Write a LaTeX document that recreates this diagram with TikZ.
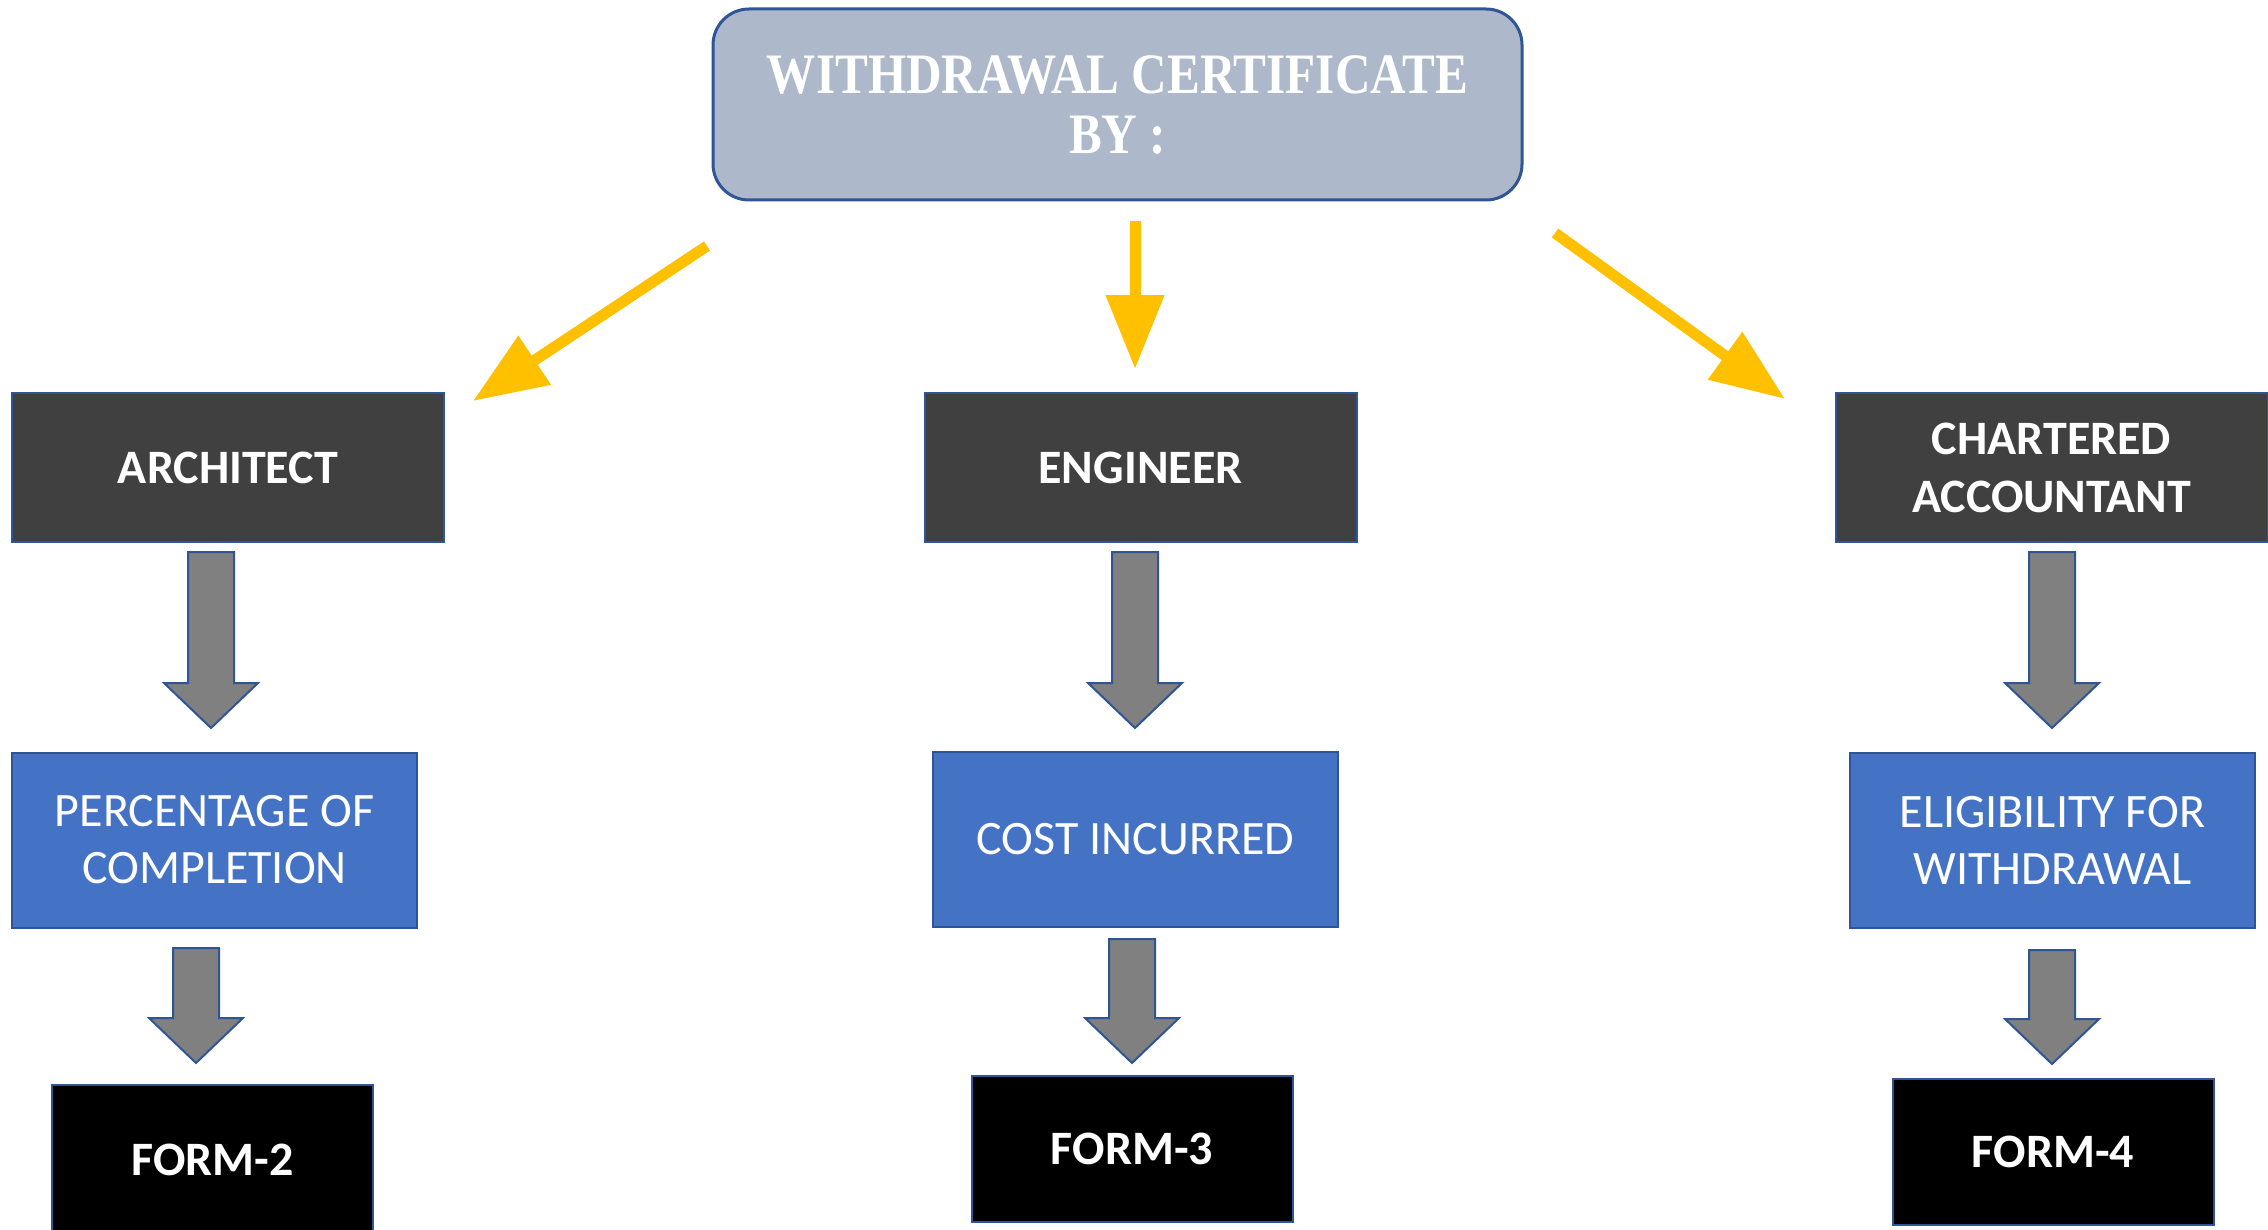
\documentclass[tikz,border=0pt]{standalone}
\usepackage{fontspec}
\setmainfont{Carlito}
\newfontfamily\titlefont{Liberation Serif}[FakeStretch=0.86]
\usetikzlibrary{arrows.meta,calc}

\definecolor{edgeblue}{HTML}{2F5597}
\definecolor{topfill}{HTML}{ADB9CA}
\definecolor{rolefill}{HTML}{404040}
\definecolor{stepfill}{HTML}{4472C4}
\definecolor{arrowgray}{HTML}{808080}
\definecolor{gold}{HTML}{FFC000}

\tikzset{
  titlebox/.style={draw=edgeblue, line width=1.5pt, fill=topfill, rounded corners=18pt,
    minimum width=404.5pt, minimum height=95.5pt, inner sep=0pt, text=white, align=center,
    font=\titlefont\bfseries\fontsize{28.6}{30}\selectfont},
  rolebox/.style={draw=edgeblue, line width=1pt, fill=rolefill, minimum width=216pt,
    minimum height=74.5pt, inner sep=0pt, text=white, align=center,
    font=\bfseries\fontsize{24}{29}\selectfont},
  stepbox/.style={draw=edgeblue, line width=1pt, fill=stepfill, minimum width=202.5pt,
    minimum height=87.5pt, inner sep=0pt, text=white, align=center,
    font=\fontsize{24}{28.5}\selectfont},
  formbox/.style={draw=edgeblue, line width=1pt, fill=black, minimum width=160.5pt,
    minimum height=73pt, inner sep=0pt, text=white, font=\bfseries\fontsize{24}{29}\selectfont},
  goldarrow/.style={draw=gold, line width=5.5pt, -{Triangle[length=37pt,width=28pt]}},
  grayarrow/.style={draw=edgeblue, line width=1pt, fill=arrowgray, line join=miter},
}

% block arrow pointing down, from tail (#1) to tip (#2)
\newcommand{\blockarr}[2]{%
  \filldraw[grayarrow] let \p1=(#1), \p2=(#2) in
    (\x1-11.5pt,\y1) -- (\x1+11.5pt,\y1) -- (\x1+11.5pt,\y2+22.5pt)
    -- (\x1+23.5pt,\y2+22.5pt) -- (\x1,\y2) -- (\x1-23.5pt,\y2+22.5pt)
    -- (\x1-11.5pt,\y2+22.5pt) -- cycle;}

\begin{document}
\begin{tikzpicture}[x=0.5pt,y=-0.5pt]
  \useasboundingbox (0,0) rectangle (2268,1230);
  % top box
  \node[titlebox] (top) at (1117.5,104.5) {WITHDRAWAL CERTIFICATE\\BY :};
  % roles
  \node[rolebox] (arch) at (228,467.5) {ARCHITECT};
  \node[rolebox] (engr) at (1140.5,467.5) {ENGINEER};
  \node[rolebox] (ca) at (2051.5,467.5) {CHARTERED\\ACCOUNTANT};
  % what each one certifies
  \node[stepbox] (perc) at (214.5,840) {PERCENTAGE OF\\COMPLETION};
  \node[stepbox] (cost) at (1135.5,839.5) {COST INCURRED};
  \node[stepbox] (elig) at (2052.5,840) {ELIGIBILITY FOR\\WITHDRAWAL};
  % forms
  \node[formbox, minimum height=75pt] (form2) at (212.5,1160) {FORM-2};
  \node[formbox] (form3) at (1132,1149) {FORM-3};
  \node[formbox] (form4) at (2053,1152) {FORM-4};

  % yellow arrows from the top box
  \coordinate (ys1) at (707,246);  \coordinate (ye1) at (473,401);
  \coordinate (ys2) at (1135,221); \coordinate (ye2) at (1135,369);
  \coordinate (ys3) at (1555,233); \coordinate (ye3) at (1785,399);
  \draw[goldarrow] (ys1) -- (ye1);
  \draw[goldarrow] (ys2) -- (ye2);
  \draw[goldarrow] (ys3) -- (ye3);

  % gray block arrows
  \coordinate (a1) at (211,552);  \coordinate (b1) at (211,728);
  \coordinate (a2) at (1135,552); \coordinate (b2) at (1135,728);
  \coordinate (a3) at (2052,552); \coordinate (b3) at (2052,728);
  \coordinate (c1) at (196,948);  \coordinate (d1) at (196,1063);
  \coordinate (c2) at (1132,939); \coordinate (d2) at (1132,1063);
  \coordinate (c3) at (2052,950); \coordinate (d3) at (2052,1064);
  \blockarr{a1}{b1} \blockarr{a2}{b2} \blockarr{a3}{b3}
  \blockarr{c1}{d1} \blockarr{c2}{d2} \blockarr{c3}{d3}
\end{tikzpicture}
\end{document}
